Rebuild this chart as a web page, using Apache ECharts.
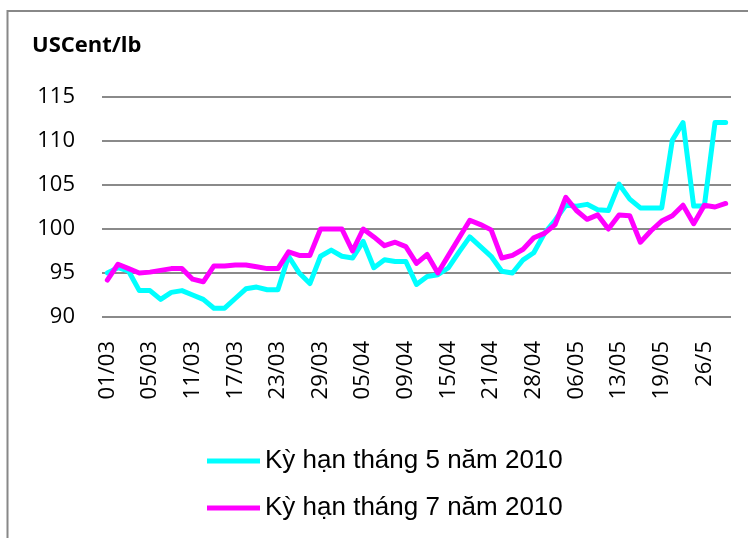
<!DOCTYPE html>
<html>
<head>
<meta charset="utf-8">
<script src="https://cdn.jsdelivr.net/npm/echarts@6/dist/echarts.min.js"></script>
<style>
html,body{margin:0;padding:0;background:#fff;}
#chart{width:748px;height:538px;}
</style>
</head>
<body>
<div id="chart"></div>
<script>
var categories = ['01/03','02/03','03/03','04/03','05/03','08/03','09/03','10/03','11/03','12/03',
  '15/03','16/03','17/03','18/03','19/03','22/03','23/03','24/03','25/03','26/03',
  '29/03','30/03','31/03','01/04','05/04','06/04','07/04','08/04','09/04','12/04',
  '13/04','14/04','15/04','16/04','19/04','20/04','21/04','22/04','23/04','27/04',
  '28/04','29/04','04/05','05/05','06/05','07/05','10/05','11/05','13/05','14/05',
  '17/05','18/05','19/05','20/05','21/05','24/05','26/5','27/05','28/05'];

var seriesMay = [95.0,95.6,95.2,93.0,93.0,92.0,92.8,93.0,92.5,92.0,
  91.0,91.0,92.1,93.2,93.4,93.1,93.1,96.9,95.0,93.8,
  96.9,97.6,96.9,96.7,98.6,95.6,96.5,96.3,96.3,93.7,
  94.6,94.8,95.6,97.4,99.1,98.0,96.9,95.2,95.0,96.5,
  97.3,99.5,101.0,102.7,102.6,102.8,102.2,102.1,105.1,103.4,
  102.4,102.4,102.4,110.1,112.1,102.6,102.6,112.1,112.1];

var seriesJul = [94.2,96.0,95.5,95.0,95.1,95.3,95.5,95.5,94.3,94.0,
  95.8,95.8,95.9,95.9,95.7,95.5,95.5,97.4,97.0,97.0,
  100.0,100.0,100.0,97.5,100.0,99.1,98.1,98.5,98.0,96.1,
  97.1,95.0,97.0,99.0,101.0,100.5,99.9,96.7,97.0,97.7,
  99.0,99.5,100.5,103.6,102.1,101.1,101.6,100.0,101.6,101.5,
  98.5,99.8,100.9,101.5,102.7,100.6,102.7,102.5,102.9];

var seriesNames = ['Kỳ hạn tháng 5 năm 2010','Kỳ hạn tháng 7 năm 2010'];
var unitLabel = 'USCent/lb';

var chart = echarts.init(document.getElementById('chart'), null, {renderer:'canvas'});
var axisFont = '"Open Sans", sans-serif';
chart.setOption({
  animation: false,
  backgroundColor: '#ffffff',
  graphic: [
    {type:'rect', shape:{x:7.5, y:11, width:800, height:700},
     style:{fill:'none', stroke:'#888888', lineWidth:2}, silent:true},
    {type:'text', left:32, top:35,
     style:{text:unitLabel, fill:'#000', font:'bold 22px "Open Sans", sans-serif'}}
  ],
  grid: {left:102, right:17, top:97, bottom:221},
  legend: {
    orient:'vertical', left:202, top:443,
    itemWidth:53, itemHeight:5, itemGap:21, icon:'rect',
    textStyle:{fontFamily:'"Liberation Sans", Arial, sans-serif', fontSize:26, color:'#000'},
    data: seriesNames
  },
  xAxis: {
    type:'category', data:categories, boundaryGap:true,
    axisLine:{show:false}, axisTick:{show:false},
    axisLabel:{interval:3, rotate:90, margin:24, color:'#000', fontSize:22, fontFamily:axisFont}
  },
  yAxis: {
    type:'value', min:90, max:115, interval:5,
    axisLine:{show:false}, axisTick:{show:false},
    splitLine:{lineStyle:{color:'#8a8a8a', width:2}},
    axisLabel:{margin:27, color:'#000', fontSize:22, fontFamily:axisFont}
  },
  series: [
    {name:seriesNames[0], type:'line', data:seriesMay, symbol:'none',
     color:'#00FFFF', lineStyle:{width:5, color:'#00FFFF', join:'round', cap:'round'}},
    {name:seriesNames[1], type:'line', data:seriesJul, symbol:'none',
     color:'#FF00FF', lineStyle:{width:5, color:'#FF00FF', join:'round', cap:'round'}}
  ]
});
</script>
</body>
</html>
